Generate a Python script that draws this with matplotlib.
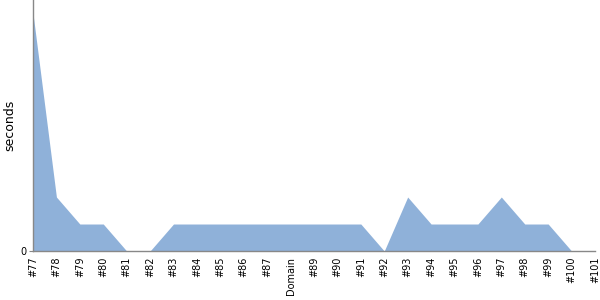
import matplotlib
matplotlib.use("Agg")
import matplotlib.pyplot as plt
import numpy as np

categories = ["#77", "#78", "#79", "#80", "#81", "#82", "#83", "#84", "#85", "#86",
              "#87", "Domain", "#89", "#90", "#91", "#92", "#93", "#94", "#95", "#96",
              "#97", "#98", "#99", "#100", "#101"]
seconds = [8.8, 2, 1, 1, 0, 0, 1, 1, 1, 1,
           1, 1, 1, 1, 1, 0, 2, 1, 1, 1,
           2, 1, 1, 0, 0]

fig = plt.figure(figsize=(6, 3), dpi=100)
ax = fig.add_axes([33/600, 49/300, (595-33)/600, 251/300])
x = np.arange(len(categories))
ax.fill_between(x, seconds, 0, color="#8fb1d9", linewidth=0)
ax.set_xlim(0, len(categories) - 1)
ax.set_ylim(0, 9.3)
ax.set_xticks(x)
ax.set_xticklabels(categories, rotation=90, fontsize=7)
ax.set_yticks([0])
ax.set_yticklabels(["0"], fontsize=7)
ax.tick_params(axis="x", length=0, pad=4)
ax.tick_params(axis="y", length=3, color="#888888", pad=2)
for s in ["top", "right"]:
    ax.spines[s].set_visible(False)
for s in ["left", "bottom"]:
    ax.spines[s].set_color("#888888")
    ax.spines[s].set_linewidth(1)
ax.set_ylabel("seconds", fontsize=9)
ax.yaxis.set_label_coords(-17/562, 0.5)
fig.savefig("out.png", dpi=100)
